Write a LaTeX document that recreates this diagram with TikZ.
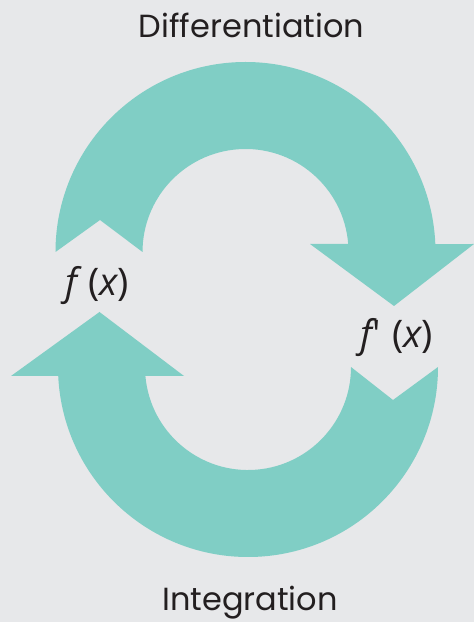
\documentclass[tikz,border=0pt]{standalone}
\usepackage{fontspec}
\setmainfont{Poppins}
\newfontfamily\fnfont{Open Sans}
\definecolor{bandteal}{HTML}{80CEC5}
\definecolor{paper}{HTML}{E7E8EA}
\definecolor{ink}{HTML}{231F20}

\begin{document}
\begin{tikzpicture}[x=1pt, y=1pt,
		band/.style={fill=bandteal},
		caption/.style={text=ink, inner sep=0pt, font=\fontsize{32}{38}\selectfont},
		fnlabel/.style={text=ink, inner sep=0pt, font=\fnfont\fontsize{38}{44}\selectfont}]
		\fill[paper] (0,0) rectangle (474,622);
		\useasboundingbox (0,0) rectangle (474,622);
		% upper band: f(x) -> f'(x)
		\fill[band] (55.5,370) arc[start angle=180, end angle=2.4, radius=190]
			-- (474,378) -- (394,316) -- (310,378) -- (348.2,378)
			arc[start angle=4.45, end angle=180, radius=103] -- (100,402) -- cycle;
		% lower band: f'(x) -> f(x)
		\fill[band] (438,255) arc[start angle=360, end angle=182.7, radius=190]
			-- (11,246) -- (99.5,310) -- (184,246) -- (145.4,246)
			arc[start angle=185, end angle=360, radius=103] -- (393,222) -- cycle;
		\node[caption, anchor=base] (diff) at (251.5,584) {Differentiation};
		\node[caption, anchor=base] (integ) at (250,11) {Integration};
		\node[fnlabel] (fx) at (97,336) {{\itshape f}\hspace{0.3em}({\itshape x})};
		\node[fnlabel] (dfx) at (397,284) {{\itshape f}\textquotesingle\hspace{0.3em}({\itshape x})};
\end{tikzpicture}
\end{document}
